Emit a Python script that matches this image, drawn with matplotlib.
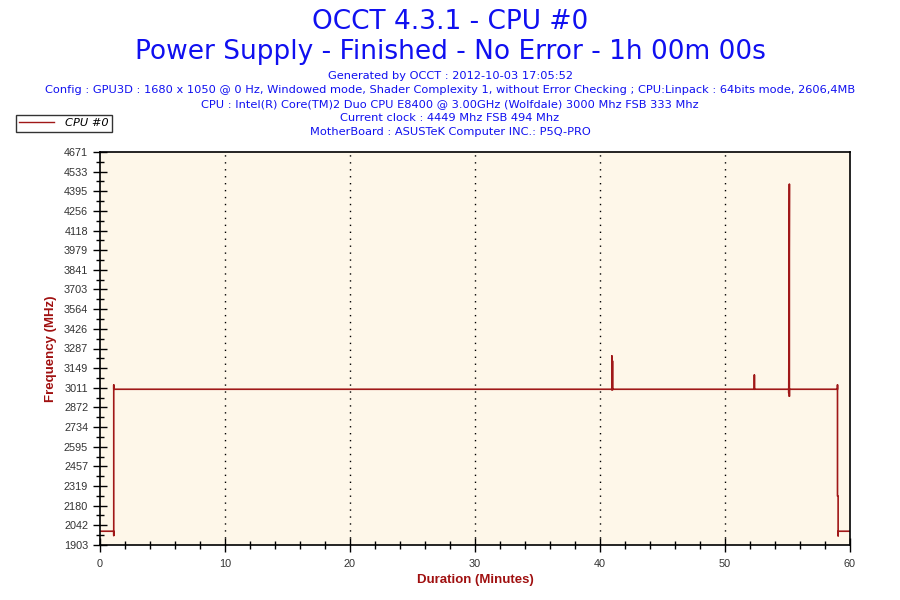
import matplotlib
matplotlib.use("Agg")
import matplotlib.pyplot as plt
from matplotlib.ticker import MultipleLocator, FixedLocator
import numpy as np

# Data (minutes, MHz)
times = [0, 1.1, 1.1, 1.1, 1.1, 40.95, 40.95, 40.95, 41.0, 41.0, 41.0,
         52.35, 52.35, 52.35, 55.1, 55.1, 55.15, 55.15, 55.15,
         59.0, 59.0, 59.0, 59.05, 59.05, 59.05, 60]
freqs = [2000, 2000, 1970, 3030, 3000, 3000, 3234, 2995, 2995, 3198, 3000,
         3000, 3100, 3000, 3000, 2973, 4445, 2951, 3000,
         3000, 3030, 2248, 2248, 1968, 2000, 2000]

y_ticks = [1903, 2042, 2180, 2319, 2457, 2595, 2734, 2872, 3011, 3149, 3287,
           3426, 3564, 3703, 3841, 3979, 4118, 4256, 4395, 4533, 4671]
x_ticks = [0, 10, 20, 30, 40, 50, 60]

title1 = "OCCT 4.3.1 - CPU #0"
title2 = "Power Supply - Finished - No Error - 1h 00m 00s"
info_lines = [
    "Generated by OCCT : 2012-10-03 17:05:52",
    "Config : GPU3D : 1680 x 1050 @ 0 Hz, Windowed mode, Shader Complexity 1, without Error Checking ; CPU:Linpack : 64bits mode, 2606,4MB",
    "CPU : Intel(R) Core(TM)2 Duo CPU E8400 @ 3.00GHz (Wolfdale) 3000 Mhz FSB 333 Mhz",
    "Current clock : 4449 Mhz FSB 494 Mhz",
    "MotherBoard : ASUSTeK Computer INC.: P5Q-PRO",
]

line_color = "#A01818"
blue = "#1010F0"
label_red = "#A01010"

fig = plt.figure(figsize=(9, 6), dpi=100)
fig.patch.set_facecolor("white")
ax = fig.add_axes([100/900, 1-545/600, 750/900, 393/600])
ax.set_facecolor("#FEF7E9")

ax.plot(times, freqs, color=line_color, lw=1.2, label="CPU #0")

ax.set_xlim(0, 60)
ax.set_ylim(y_ticks[0], y_ticks[-1])
ax.yaxis.set_major_locator(FixedLocator(y_ticks))
ax.set_yticklabels([str(v) for v in y_ticks])
minor_y = [(a + b) / 2 for a, b in zip(y_ticks[:-1], y_ticks[1:])]
ax.yaxis.set_minor_locator(FixedLocator(minor_y))
ax.xaxis.set_major_locator(FixedLocator(x_ticks))
ax.xaxis.set_minor_locator(MultipleLocator(2))

ax.tick_params(axis="both", which="major", direction="inout", length=10, width=1,
               labelsize=7.8, labelcolor="#333333", colors="black")
ax.tick_params(axis="both", which="minor", direction="inout", length=6, width=1, colors="black")
ax.tick_params(axis="y", labelcolor="#333333")
ax.tick_params(axis="x", labelcolor="#333333", pad=5)
for lab in ax.get_xticklabels() + ax.get_yticklabels():
    lab.set_family("Liberation Sans")

for s in ["left", "bottom", "top", "right"]:
    ax.spines[s].set_color("black")
    ax.spines[s].set_linewidth(1.2)

for xv in x_ticks[1:-1]:
    ax.axvline(xv, color="black", lw=1, linestyle=(0, (1, 4)), zorder=1)

ax.set_xlabel("Duration (Minutes)", color=label_red, fontsize=9.5, fontweight="bold",
              family="Liberation Sans", labelpad=4)
ax.set_ylabel("Frequency (MHz)", color=label_red, fontsize=9.5, fontweight="bold",
              family="Liberation Sans", labelpad=5)

fig.text(0.5, 1-22/600, title1, ha="center", va="center", color=blue, fontsize=19,
         family="DejaVu Sans")
fig.text(0.5, 1-52/600, title2, ha="center", va="center", color=blue, fontsize=19,
         family="DejaVu Sans")
for i, t in enumerate(info_lines):
    fig.text(0.5, 1-(76 + 14*i)/600, t, ha="center", va="center", color=blue, fontsize=8.2,
             family="DejaVu Sans")

leg = fig.legend(loc="upper left", bbox_to_anchor=(16/900, 1-115/600), frameon=True,
                 fancybox=False, edgecolor="black", fontsize=8.2, handlelength=3.0,
                 borderpad=0.3, handletextpad=1.0, borderaxespad=0)
leg.get_frame().set_linewidth(1)
for t in leg.get_texts():
    t.set_fontstyle("italic")
    t.set_family("DejaVu Sans")
for h in leg.legend_handles:
    h.set_linewidth(1)

fig.savefig("out.png", dpi=100)
